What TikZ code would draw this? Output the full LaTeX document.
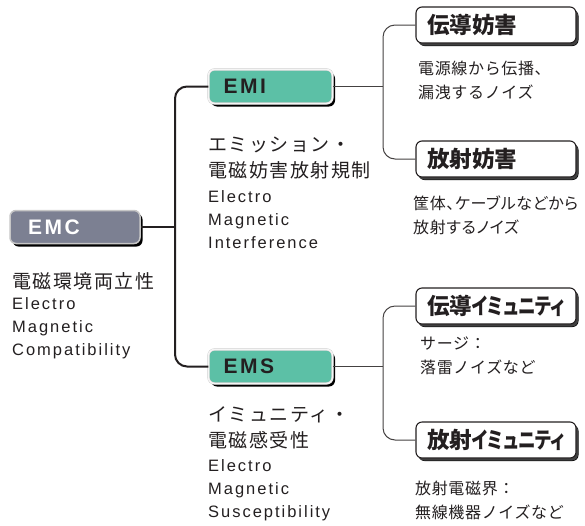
\documentclass[tikz,border=0pt]{standalone}
\usepackage{fontspec}
\setmainfont{Liberation Sans}[LetterSpace=12]
\newfontfamily\jp{Noto Sans CJK JP}[LetterSpace=8]
\newfontfamily\jpnote{Noto Sans CJK JP}[LetterSpace=4]
\newfontfamily\jpbox{Noto Sans CJK JP}[RawFeature=+palt]
\usetikzlibrary{shadows}

\definecolor{emcgray}{RGB}{124,128,146}
\definecolor{emiteal}{RGB}{92,192,166}
\definecolor{ink}{RGB}{35,31,32}

\newcommand{\narrowkana}[1]{\scalebox{0.78}[1]{#1}}

\begin{document}
\begin{tikzpicture}[x=1pt,y=-1pt,
   box/.style={rounded corners=6pt, align=left, inner ysep=0pt,
     drop shadow={shadow xshift=2.5pt, shadow yshift=-3pt, fill=black, opacity=1}},
   emcbox/.style={box, fill=emcgray, draw=gray!45, line width=1.5pt,
     minimum height=33pt, inner xsep=18pt, text width=94pt,
     text=white, font=\fontsize{21}{24}\selectfont\bfseries},
   emibox/.style={box, fill=emiteal, draw=gray!40, double=white!92!gray,
     double distance=1.5pt, minimum height=34pt, inner xsep=15pt, text width=94pt,
     text=ink, font=\fontsize{21}{24}\selectfont\bfseries},
   subbox/.style={box, fill=white, draw=ink, line width=1.1pt,
     drop shadow={shadow xshift=2pt, shadow yshift=-2.5pt, fill=black!75, opacity=1},
     minimum height=36pt, inner xsep=11pt, text width=138pt,
     text=ink, font=\jpbox\fontsize{22.5}{24}\selectfont\bfseries},
   trunkline/.style={draw=ink, line width=2pt},
   branchline/.style={draw=ink!85, line width=1pt},
   jptext/.style={anchor=base west, inner sep=0pt, align=left, text=ink,
     font=\jp\fontsize{19}{25.5}\selectfont},
   entext/.style={anchor=base west, inner sep=0pt, align=left, text=ink,
     font=\fontsize{16.5}{22.8}\selectfont},
   notetext/.style={anchor=base west, inner sep=0pt, align=left, text=ink,
     font=\jpnote\fontsize{16}{24}\selectfont}]
  \useasboundingbox (0,0) rectangle (585,525);

  % main boxes
  \node[emcbox] (emc) at (75,227) {EMC};
  \node[emibox] (emi) at (270.5,86.5) {EMI};
  \node[emibox] (ems) at (270.5,366.5) {EMS};

  % sub boxes
  \node[subbox] (cond1) at (496,25) {伝導妨害};
  \node[subbox] (rad1) at (496,159) {放射妨害};
  \node[subbox] (cond2) at (496,306) {伝導\narrowkana{イミュニティ}};
  \node[subbox] (rad2) at (496,440) {放射\narrowkana{イミュニティ}};

  % connectors
  \coordinate (trunk) at (175,227);
  \coordinate (fork1) at (383,86.5);
  \coordinate (fork2) at (383,366.5);
  \draw[trunkline] (emc.east) -- (trunk);
  \draw[trunkline,rounded corners=12pt] (emi.west) -| (trunk) |- (ems.west);
  \draw[branchline] (emi.east) -- (fork1);
  \draw[branchline,rounded corners=12pt] (cond1.west) -| (fork1) |- (rad1.west);
  \draw[branchline] (ems.east) -- (fork2);
  \draw[branchline,rounded corners=12pt] (cond2.west) -| (fork2) |- (rad2.west);

  % texts (base = last line)
  \node[jptext] (emcjp) at (12,288) {電磁環境両立性};
  \node[entext] (emcen) at (12,355) {Electro\\Magnetic\\Compatibility};
  \node[jptext] (emijp) at (208,177) {エミッション・\\電磁妨害放射規制};
  \node[entext] (emien) at (208,248) {Electro\\Magnetic\\Interference};
  \node[jptext] (emsjp) at (208,447) {イミュニティ・\\電磁感受性};
  \node[entext] (emsen) at (208,517) {Electro\\Magnetic\\Susceptibility};
  \node[notetext] (cond1note) at (418,98) {電源線から伝播、\\漏洩するノイズ};
  \node[notetext,font=\jpnote\addfontfeature{RawFeature=+palt}\fontsize{16}{24}\selectfont]
    (rad1note) at (413,233) {筐体、ケーブルなどから\\放射するノイズ};
  \node[notetext] (cond2note) at (420,373) {サージ：\\落雷ノイズなど};
  \node[notetext] (rad2note) at (415,518) {放射電磁界：\\無線機器ノイズなど};
\end{tikzpicture}
\end{document}
